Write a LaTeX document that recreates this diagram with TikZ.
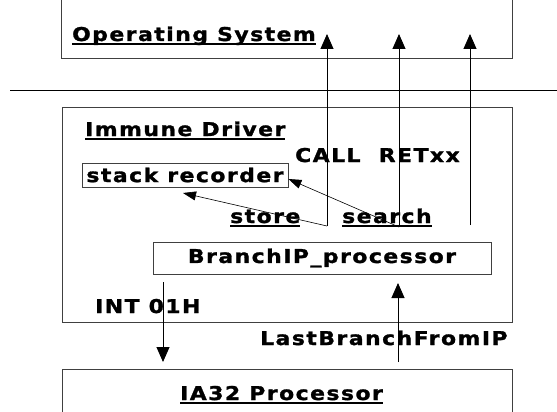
\documentclass[tikz,border=0pt]{standalone}
\usepackage{fontspec}
\usetikzlibrary{arrows.meta,positioning}
\newfontfamily\diafont[FakeStretch=1.15,LetterSpace=8,FakeBold=1.5]{DejaVu Sans}
\newcommand\ulword[1]{\setbox0\hbox{#1}\rlap{\rule[-4.2pt]{\wd0}{2pt}}\box0}

\begin{document}
\begin{tikzpicture}[
  x=1pt, y=-1pt,
  box/.style={rectangle,draw=black!75,line width=0.9pt,inner sep=0pt},
  lbl/.style={font=\diafont\bfseries\fontsize{19}{22}\selectfont,
              inner sep=0pt,anchor=base west},
  arr/.style={-{Triangle[length=15pt,width=13pt]},line width=0.9pt},
  sarr/.style={-{Triangle[length=13pt,width=9pt]},line width=0.6pt}
]
  \useasboundingbox (0,0) rectangle (557,412);
  \clip (0,0) rectangle (557,412);

  % layers
  \node[box, minimum width=451pt, minimum height=68pt] (os) at (286.5,24) {};
  \node[box, minimum width=450pt, minimum height=215pt] (driver) at (287,214.5) {};
  \node[box, minimum width=450pt, minimum height=61pt] (ia32) at (287,399.5) {};
  \coordinate (sepL) at (10,90);
  \coordinate (sepR) at (557,90);
  \draw[line width=0.9pt] (sepL) -- (sepR);

  \node[lbl] (oslbl)  at (72,41)   {\ulword{Operating System}};
  \node[lbl] (drvlbl) at (85,136)  {\ulword{Immune Driver}};
  \node[lbl] (ialbl)  at (180,400) {\ulword{IA32 Processor}};

  \node[box, lbl, anchor=center, minimum width=206pt, minimum height=24pt]
    (recorder) at (185,175) {stack recorder};
  \node[box, lbl, anchor=center, minimum width=338pt, minimum height=32pt]
    (branch) at (322,258) {BranchIP\_processor};

  \node[lbl] (call)   at (295,162) {CALL\ \ RETxx};
  \node[lbl] (store)  at (230,223) {\ulword{store}};
  \node[lbl] (search) at (342,223) {\ulword{search}};
  \node[lbl] (int)    at (95,313)  {INT 01H};
  \node[lbl] (last)   at (260,345) {LastBranchFromIP};

  % calls to the OS
  \coordinate (callA) at (327,226);
  \coordinate (callB) at (399,227);
  \coordinate (callC) at (470,225);
  \coordinate (osA) at (327,34);
  \coordinate (osB) at (399,34);
  \coordinate (osC) at (470,34);
  \draw[arr] (callA) -- (osA);
  \draw[arr] (callB) -- (osB);
  \draw[arr] (callC) -- (osC);

  \coordinate (storetip) at (183,193);
  \draw[sarr] (callA) -- (storetip);
  \draw[sarr] (callB) -- ([yshift=-4pt]recorder.east);

  % hardware side
  \coordinate (intA) at (163,282);
  \coordinate (intB) at (163,362);
  \coordinate (lbrA) at (398,362);
  \coordinate (lbrB) at (398,283);
  \draw[arr] (intA) -- (intB);
  \draw[arr] (lbrA) -- (lbrB);
\end{tikzpicture}
\end{document}
